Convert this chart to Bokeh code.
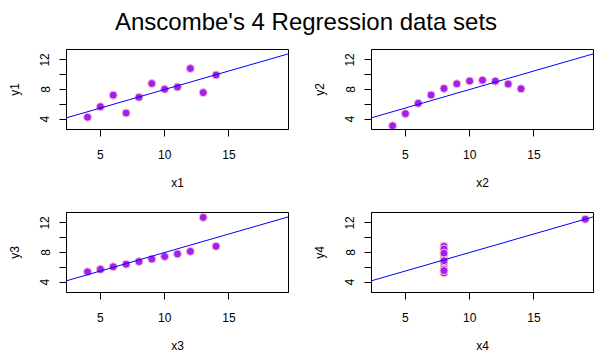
import numpy as np
from bokeh.plotting import figure
from bokeh.models import Range1d, Slope, FixedTicker, Div
from bokeh.layouts import column, row
from bokeh.embed import file_html
from bokeh.resources import INLINE

# Anscombe's quartet
x1 = [10, 8, 13, 9, 11, 14, 6, 4, 12, 7, 5]
y1 = [8.04, 6.95, 7.58, 8.81, 8.33, 9.96, 7.24, 4.26, 10.84, 4.82, 5.68]
x2 = [10, 8, 13, 9, 11, 14, 6, 4, 12, 7, 5]
y2 = [9.14, 8.14, 8.74, 8.77, 9.26, 8.10, 6.13, 3.10, 9.13, 7.26, 4.74]
x3 = [10, 8, 13, 9, 11, 14, 6, 4, 12, 7, 5]
y3 = [7.46, 6.77, 12.74, 7.11, 7.81, 8.84, 6.08, 5.39, 8.15, 6.42, 5.73]
x4 = [8, 8, 8, 8, 8, 8, 8, 19, 8, 8, 8]
y4 = [6.58, 5.76, 7.71, 8.84, 8.47, 7.04, 5.25, 12.50, 5.56, 7.91, 6.89]

title_text = "Anscombe's 4 Regression data sets"
x_ticks = [5, 10, 15]
y_ticks = [4, 6, 8, 10, 12]
y_tick_labels = {4: "4", 6: "", 8: "8", 10: "", 12: "12"}
x_limits = (3, 19)
y_limits = (3, 13)

FONT = "Liberation Sans"


def padded(lim):
    d = (lim[1] - lim[0]) * 0.04
    return Range1d(lim[0] - d, lim[1] + d)


def panel(x, y, xname, yname, left_border, right_border, bottom_border):
    p = figure(frame_width=222, frame_height=80,
               x_range=padded(x_limits), y_range=padded(y_limits),
               output_backend="svg", toolbar_location=None,
               min_border_left=left_border, min_border_right=right_border,
               min_border_top=5, min_border_bottom=bottom_border)
    p.grid.visible = False
    p.outline_line_color = "black"
    p.outline_line_alpha = 1
    p.outline_line_width = 1
    p.background_fill_color = "white"
    p.border_fill_color = "white"

    for ax in (p.xaxis[0], p.yaxis[0]):
        ax.axis_line_color = "black"
        ax.major_tick_in = 0
        ax.major_tick_out = 7
        ax.minor_tick_line_color = None
        ax.major_tick_line_color = "black"
        ax.major_label_text_font = FONT
        ax.major_label_text_font_size = "12px"
        ax.major_label_text_color = "black"
        ax.axis_label_text_font = FONT
        ax.axis_label_text_font_size = "12px"
        ax.axis_label_text_font_style = "normal"
        ax.axis_label_text_color = "black"

    p.xaxis[0].ticker = FixedTicker(ticks=x_ticks)
    p.xaxis[0].axis_label = xname
    p.xaxis[0].major_label_standoff = 13
    p.xaxis[0].axis_label_standoff = 14

    p.yaxis[0].ticker = FixedTicker(ticks=y_ticks)
    p.yaxis[0].major_label_overrides = {k: v for k, v in y_tick_labels.items()}
    p.yaxis[0].major_label_orientation = "vertical"
    p.yaxis[0].axis_label = yname
    p.yaxis[0].major_label_standoff = 10
    p.yaxis[0].axis_label_standoff = 16

    slope, intercept = np.polyfit(np.array(x, float), np.array(y, float), 1)
    p.add_layout(Slope(gradient=slope, y_intercept=intercept,
                       line_color="blue", line_width=1))
    p.scatter(x, y, size=8, fill_color="#A020F0", line_color="#FFC0CB",
              line_width=1)
    return p


p1 = panel(x1, y1, "x1", "y1", 66, 5, 78)
p2 = panel(x2, y2, "x2", "y2", 78, 15, 78)
p3 = panel(x3, y3, "x3", "y3", 66, 5, 64)
p4 = panel(x4, y4, "x4", "y4", 78, 15, 64)

title = Div(text=title_text, width=612, height=44, margin=0,
            styles={"font-family": FONT, "font-size": "24px",
                    "text-align": "center", "color": "black",
                    "line-height": "44px"})

layout = column(title, row(p1, p2), row(p3, p4))

open("out.html", "w").write(file_html(layout, INLINE))
